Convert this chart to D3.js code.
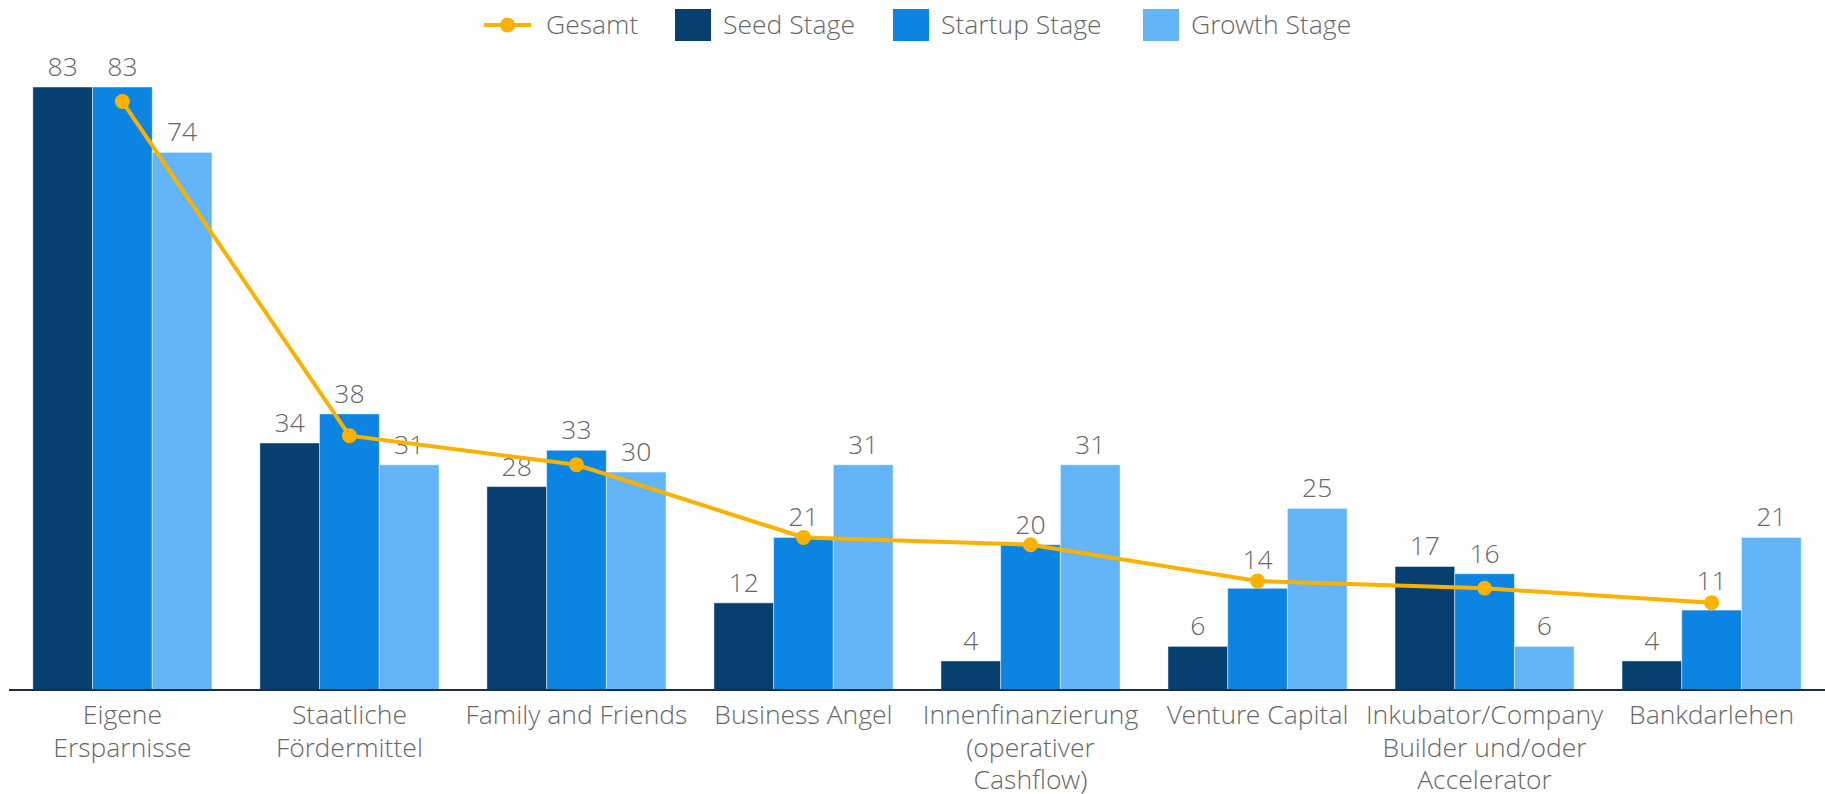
<!DOCTYPE html>
<html>
<head>
<meta charset="utf-8">
<script src="https://cdn.jsdelivr.net/npm/d3@7"></script>
<style>
  body { margin: 0; background: #fff; }
  text { font-family: 'Open Sans Light', 'Open Sans', sans-serif; font-weight: 300; fill: #686868; }
</style>
</head>
<body>
<div id="chart"></div>
<script>
// data
var categories = [
    ['Eigene', 'Ersparnisse'],
    ['Staatliche', 'Fördermittel'],
    ['Family and Friends'],
    ['Business Angel'],
    ['Innenfinanzierung', '(operativer', 'Cashflow)'],
    ['Venture Capital'],
    ['Inkubator/Company', 'Builder und/oder', 'Accelerator'],
    ['Bankdarlehen']
];
var seriesNames = ['Seed Stage', 'Startup Stage', 'Growth Stage'];
var seedValues = [83, 34, 28, 12, 4, 6, 17, 4];
var startupValues = [83, 38, 33, 21, 20, 14, 16, 11];
var growthValues = [74, 31, 30, 31, 31, 25, 6, 21];
var gesamtValues = [81, 35, 31, 21, 20, 15, 14, 12];
var colors = ['#07406f', '#0b84e2', '#63b5f7'];
var lineColor = '#fbb100';

var width = 1825, height = 794;
var fontSize = '26.5px';
var markerR = 7.5;
var svg = d3.select('#chart').append('svg')
    .attr('width', width)
    .attr('height', height);

var baseY = 690;
var x0 = d3.scaleBand()
    .domain(d3.range(categories.length))
    .range([9, 1825])
    .paddingInner(0.211)
    .paddingOuter(0.105);
var x1 = d3.scaleBand()
    .domain(d3.range(3))
    .range([0, x0.bandwidth()]);
var y = d3.scaleLinear()
    .domain([0, 83])
    .range([baseY, 87]);

var table = categories.map(function (c, i) {
    return { i: i, vals: [seedValues[i], startupValues[i], growthValues[i]], total: gesamtValues[i] };
});

// bars
var groups = svg.selectAll('.grp')
    .data(table)
    .enter().append('g')
    .attr('transform', function (d) { return 'translate(' + x0(d.i) + ',0)'; });

groups.selectAll('rect')
    .data(function (d) { return d.vals; })
    .enter().append('rect')
    .attr('x', function (d, j) { return x1(j); })
    .attr('y', function (d) { return y(d); })
    .attr('width', x1.bandwidth())
    .attr('height', function (d) { return baseY - y(d); })
    .attr('fill', function (d, j) { return colors[j]; })
    .attr('stroke', 'rgba(255,255,255,0.45)')
    .attr('stroke-width', 1);

// axis
var xAxis = d3.axisBottom(x0).tickSize(0).tickFormat('');
svg.append('g')
    .attr('transform', 'translate(0,' + baseY + ')')
    .call(xAxis)
    .call(function (g) {
        g.select('.domain').attr('stroke', '#1b2e45').attr('stroke-width', 2).attr('d', 'M9,0H1825');
    });

svg.selectAll('.cat')
    .data(table)
    .enter().append('text')
    .attr('class', 'cat')
    .attr('text-anchor', 'middle')
    .style('font-size', fontSize)
    .each(function (d) {
        var t = d3.select(this);
        categories[d.i].forEach(function (line, k) {
            t.append('tspan')
                .attr('x', x0(d.i) + x0.bandwidth() / 2)
                .attr('y', 724 + k * 32.5)
                .text(line);
        });
    });

// Gesamt line
var cx = function (d) { return x0(d.i) + x0.bandwidth() / 2; };
var line = d3.line()
    .x(cx)
    .y(function (d) { return y(d.total); });

svg.append('path')
    .datum(table)
    .attr('d', line)
    .attr('fill', 'none')
    .attr('stroke', lineColor)
    .attr('stroke-width', 4);

svg.selectAll('.dot')
    .data(table)
    .enter().append('circle')
    .attr('cx', cx)
    .attr('cy', function (d) { return y(d.total); })
    .attr('r', markerR)
    .attr('fill', lineColor);

// value labels (pushed up when they would sit on the Gesamt marker)
groups.each(function (g) {
    d3.select(this).selectAll('.lbl')
        .data(g.vals)
        .enter().append('text')
        .attr('class', 'lbl')
        .attr('x', function (d, j) { return x1(j) + x1.bandwidth() / 2; })
        .attr('y', function (d, j) {
            var by = y(d) - 11;
            var top = y(g.total) - markerR;
            if (j === 1 && by > top - 3) by = top - 5;
            return by;
        })
        .attr('text-anchor', 'middle')
        .style('font-size', fontSize)
        .style('stroke', '#fff')
        .style('stroke-width', 8)
        .style('paint-order', 'stroke')
        .style('stroke-linejoin', 'round')
        .text(function (d) { return d; });
});

// legend
var legend = svg.append('g');
var lg = legend.append('g');
lg.append('line')
    .attr('x1', 484).attr('x2', 531)
    .attr('y1', 25).attr('y2', 25)
    .attr('stroke', lineColor).attr('stroke-width', 4);
lg.append('circle')
    .attr('cx', 507.5).attr('cy', 25).attr('r', markerR)
    .attr('fill', lineColor);
lg.append('text')
    .attr('x', 546).attr('y', 34)
    .style('font-size', fontSize)
    .text('Gesamt');

var legendX = [675, 893, 1143];
seriesNames.forEach(function (name, j) {
    legend.append('rect')
        .attr('x', legendX[j]).attr('y', 9)
        .attr('width', 36).attr('height', 32)
        .attr('fill', colors[j]);
    legend.append('text')
        .attr('x', legendX[j] + 48).attr('y', 34)
        .style('font-size', fontSize)
        .text(name);
});
</script>
</body>
</html>
